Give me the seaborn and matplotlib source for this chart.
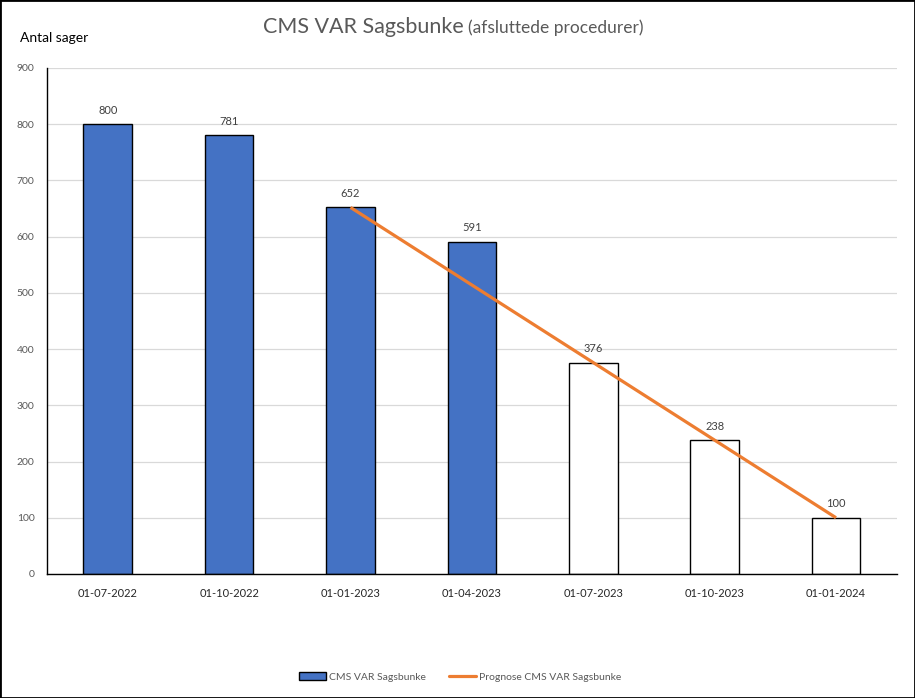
import numpy as np
import pandas as pd
import matplotlib
matplotlib.use("Agg")
import matplotlib.pyplot as plt
import seaborn as sns
from matplotlib.patches import Patch, Rectangle
from matplotlib.lines import Line2D

# Data
dates = ["01-07-2022", "01-10-2022", "01-01-2023", "01-04-2023",
         "01-07-2023", "01-10-2023", "01-01-2024"]
cases = [800, 781, 652, 591, 376, 238, 100]
actual = [True, True, True, True, False, False, False]
forecast_dates = ["01-01-2023", "01-04-2023", "01-07-2023", "01-10-2023", "01-01-2024"]
forecast = [652, 514, 376, 238, 100]

blue = "#4472C4"
orange = "#ED7D31"

sns.set_style("white")
plt.rcParams['font.family'] = ['Lato', 'DejaVu Sans']

df = pd.DataFrame({"date": dates, "cases": cases})
colors = [blue if a else "white" for a in actual]

fig = plt.figure(figsize=(9.15, 6.98), dpi=100)
ax = fig.add_axes([0.0514, 0.1777, 0.9286, 0.7249])

sns.barplot(data=df, x="date", y="cases", hue="date", palette=colors,
            legend=False, width=0.4, edgecolor="black", linewidth=1,
            saturation=1, ax=ax)

# forecast line on the same categorical positions
fx = [dates.index(d) for d in forecast_dates]
ax.plot(fx, forecast, color=orange, lw=2.3, solid_capstyle="butt", zorder=5)

# data labels
for i, v in enumerate(cases):
    ax.annotate(str(v), (i, v), xytext=(0, 6), textcoords="offset points",
                ha="center", va="bottom", fontsize=8, color="#404040")

ax.set_ylim(0, 900)
ax.set_yticks(range(0, 901, 100))
ax.set_xlim(-0.5, len(dates) - 0.5)
ax.yaxis.grid(True, color="#d9d9d9", lw=0.9)
ax.set_axisbelow(True)
ax.set_xlabel("")
ax.set_ylabel("")

for s in ["top", "right"]:
    ax.spines[s].set_visible(False)
ax.spines["left"].set_color("black")
ax.spines["bottom"].set_color("black")
ax.spines["left"].set_linewidth(1)
ax.spines["bottom"].set_linewidth(1)

ax.tick_params(axis="y", length=0, pad=9, labelsize=7.5, labelcolor="#595959")
ax.tick_params(axis="x", which="major", length=0, pad=10, labelsize=8, labelcolor="#262626")
ax.set_xticks(np.arange(-0.5, len(dates), 1), minor=True)
ax.tick_params(axis="x", which="minor", length=5, direction="out", color="black", width=1)

# titles
fig.text(464 / 915, 1 - 27 / 698, "CMS VAR Sagsbunke", ha="right", va="center",
         fontsize=15.5, color="#595959")
fig.text(468 / 915, 1 - 28 / 698, "(afsluttede procedurer)", ha="left", va="center",
         fontsize=12.5, color="#595959")
fig.text(20 / 915, 1 - 38 / 698, "Antal sager", ha="left", va="center",
         fontsize=10, color="black")

handles = [Patch(facecolor=blue, edgecolor="black", lw=1),
           Line2D([0], [0], color=orange, lw=2.3)]
fig.legend(handles, ["CMS VAR Sagsbunke", "Prognose CMS VAR Sagsbunke"],
           loc="center", bbox_to_anchor=(460 / 915, 1 - 677 / 698), ncol=2,
           frameon=False, fontsize=7.5, labelcolor="#595959",
           handlelength=2.6, handleheight=0.8, columnspacing=2.2, handletextpad=0.3)

fig.add_artist(Rectangle((0, 0), 1, 1, transform=fig.transFigure, fill=False,
                         edgecolor="black", lw=2))

fig.savefig("out.png", dpi=100)
